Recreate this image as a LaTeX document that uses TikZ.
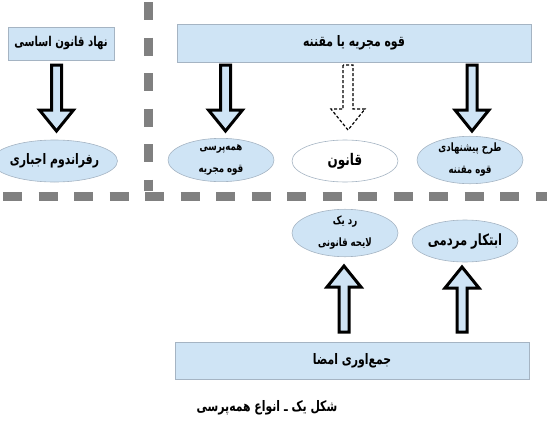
\documentclass[tikz,border=0pt]{standalone}
\usepackage{fontspec}
\usetikzlibrary{shapes.geometric,calc}
\TeXXeTstate=1
\newfontfamily\fa[Script=Arabic,FakeStretch=0.75]{DejaVu Sans}
\definecolor{boxfill}{RGB}{207,228,245}
\definecolor{boxline}{RGB}{165,180,195}
\definecolor{dashgray}{RGB}{128,128,128}
\newcommand\fsz[1]{\fa\bfseries\fontsize{#1}{#1}\selectfont}
\tikzset{
  rectbox/.style={draw=boxline, line width=0.8pt, fill=boxfill, inner sep=0pt},
  ovalbox/.style={ellipse, draw=boxline, line width=0.6pt, fill=boxfill, inner sep=0pt, minimum width=106pt, minimum height=42pt, align=center},
  smalltxt/.style={font=\fa\bfseries\fontsize{11.5}{22}\selectfont},
  barrow/.style={draw=black, line width=3pt, fill=boxfill, line join=miter},
  darrowstyle/.style={draw=black, line width=1.2pt, fill=white, dash pattern=on 3pt off 2pt},
  sepline/.style={draw=dashgray, line width=9pt}
}
\newcommand\blockarrow[3][barrow]{%
  \path[#1] let \p1=(#2), \p2=(#3), \p3=($(#3)!21pt!(#2)$) in
    (\x1-5pt,\y1) -- (\x1-5pt,\y3) -- (\x1-17pt,\y3) -- (\x2,\y2) --
    (\x1+17pt,\y3) -- (\x1+5pt,\y3) -- (\x1+5pt,\y1) -- cycle;}
\begin{document}
\begin{tikzpicture}[x=1pt,y=-1pt]
\useasboundingbox (0,0) rectangle (547,429);
% separators
\coordinate (vtop) at (148.5,2);
\coordinate (vbot) at (148.5,191);
\coordinate (hl) at (3,196.5);
\coordinate (hr) at (547,196.5);
\draw[sepline, dash pattern=on 18pt off 17.5pt] (vtop) -- (vbot);
\draw[sepline, dash pattern=on 19pt off 16.5pt] (hl) -- (hr);
% boxes
\node[rectbox, minimum width=106pt, minimum height=33pt, font=\fsz{13.5}] (nahad) at (61,43.5) {\beginR نهاد قانون اساسی\endR};
\node[rectbox, minimum width=354pt, minimum height=38pt, font=\fsz{14.5}] (qove) at (354,43) {\beginR قوه مجریه یا مقننه\endR};
\node[rectbox, minimum width=354pt, minimum height=37pt, font=\fsz{14.5}] (jam) at (352,360.5) {\beginR جمع‌اوری امضا\endR};
% ellipses
\node[ovalbox, font=\fsz{14.5}] (ref) at (54.5,161) {\beginR رفراندوم اجباری\endR};
\node[ovalbox, smalltxt] (hame) at (221,160) {\beginR همه‌پرسی\endR\\\beginR قوه مجریه\endR};
\node[ovalbox, font=\fsz{16}, fill=white] (qanun) at (345,161) {\beginR قانون\endR};
\node[ovalbox, smalltxt] (tarh) at (470,160) {\beginR طرح پیشنهادی\endR\\\beginR قوه مقننه\endR};
\node[ovalbox, smalltxt] (rad) at (345,233) {\beginR رد یک\endR\\\beginR لایحه قانونی\endR};
\node[ovalbox, font=\fsz{15.5}] (ebtekar) at (465,241) {\beginR ابتکار مردمی\endR};
% arrow anchors
\coordinate (a1s) at (56.5,65);  \coordinate (a1e) at (56.5,131);
\coordinate (a2s) at (225.5,65); \coordinate (a2e) at (225.5,131);
\coordinate (a3s) at (348,65);   \coordinate (a3e) at (348,130);
\coordinate (a4s) at (472,65);   \coordinate (a4e) at (472,131);
\coordinate (a5s) at (344,332);  \coordinate (a5e) at (344,266);
\coordinate (a6s) at (462,332);  \coordinate (a6e) at (462,267);
\blockarrow{a1s}{a1e}
\blockarrow{a2s}{a2e}
\blockarrow[darrowstyle]{a3s}{a3e}
\blockarrow{a4s}{a4e}
\blockarrow{a5s}{a5e}
\blockarrow{a6s}{a6e}
% caption
\node[font=\fsz{14.5}] (cap) at (267,408) {\beginR شکل یک ـ انواع همه‌پرسی\endR};
\end{tikzpicture}
\end{document}
